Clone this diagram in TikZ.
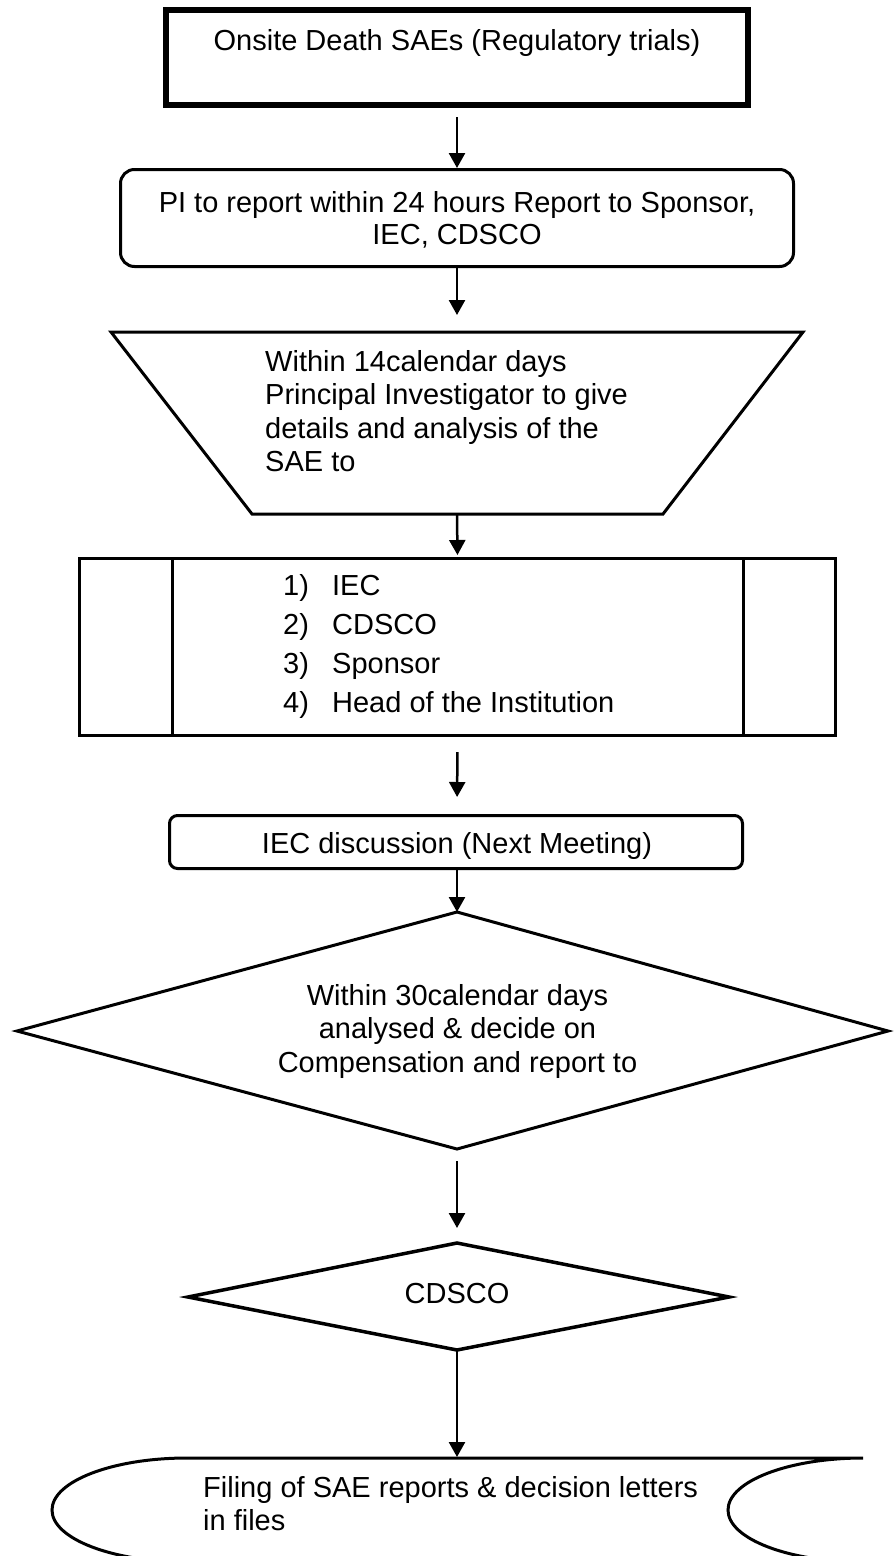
\documentclass[tikz,border=0pt]{standalone}
\usepackage{fontspec}
\setmainfont{Liberation Sans}
\usetikzlibrary{arrows.meta}

\tikzset{
  flowline/.style={line width=3pt, line join=miter},
  boxnode/.style={draw, line width=3pt, inner sep=0pt},
  arr/.style={line width=2.5pt, -{Triangle[length=15pt,width=16pt]}},
  txt/.style={inner sep=0pt, font=\fontsize{29}{33.5}\selectfont},
}

\begin{document}
\begin{tikzpicture}[x=1pt, y=-1pt]
\useasboundingbox (0,0) rectangle (894,1556);
\fill[white] (0,0) rectangle (894,1556);
\clip (0,0) rectangle (894,1556);

% ---- start box (heavy frame)
\node[boxnode, line width=6pt, minimum width=582pt, minimum height=95pt] (start) at (457,57.5) {};
\node[txt, anchor=base] (startT) at (457,50) {Onsite Death SAEs (Regulatory trials)};

% ---- 24-hour report
\node[boxnode, rounded corners=14pt, minimum width=673pt, minimum height=97pt] (report) at (457,218) {};
\node[txt, anchor=base] (reportA) at (457,212) {PI to report within 24 hours Report to Sponsor,};
\node[txt, anchor=base] (reportB) at (457,244) {IEC, CDSCO};

% ---- 14-day analysis (inverted trapezium)
\draw[flowline] (111,332) -- (803,332) -- (663,514) -- (252,514) -- cycle;
\coordinate (analysisN) at (457,332);
\coordinate (analysisS) at (457,514);
\node[txt, anchor=base west] (analysisA) at (265,371) {Within 14calendar days};
\node[txt, anchor=base west] (analysisB) at (265,404.5) {Principal Investigator to give};
\node[txt, anchor=base west] (analysisC) at (265,438) {details and analysis of the};
\node[txt, anchor=base west] (analysisD) at (265,471.5) {SAE to};

% ---- recipients (predefined-process box)
\node[boxnode, minimum width=756pt, minimum height=177pt] (recip) at (457.5,647) {};
\draw[line width=3pt] ([xshift=94pt]recip.north west) -- ([xshift=94pt]recip.south west);
\draw[line width=3pt] ([xshift=-94pt]recip.north east) -- ([xshift=-94pt]recip.south east);
\node[txt, anchor=base west] (recipA) at (283,595) {\makebox[49pt][l]{1)}IEC};
\node[txt, anchor=base west] (recipB) at (283,634) {\makebox[49pt][l]{2)}CDSCO};
\node[txt, anchor=base west] (recipC) at (283,673) {\makebox[49pt][l]{3)}Sponsor};
\node[txt, anchor=base west] (recipD) at (283,712) {\makebox[49pt][l]{4)}Head of the Institution};

% ---- IEC discussion
\node[boxnode, rounded corners=8pt, minimum width=573pt, minimum height=53pt] (iec) at (456,842) {};
\node[txt, anchor=base] (iecT) at (457,853) {IEC discussion (Next Meeting)};

% ---- 30-day decision
\draw[flowline] (457,912) -- (888,1031) -- (457,1149) -- (17,1031) -- cycle;
\coordinate (decideN) at (457,912);
\coordinate (decideS) at (457,1149);
\node[txt, anchor=base] (decideA) at (457.5,1005) {Within 30calendar days};
\node[txt, anchor=base] (decideB) at (457.5,1038.5) {analysed \& decide on};
\node[txt, anchor=base] (decideC) at (457.5,1072) {Compensation and report to};

% ---- CDSCO
\draw[flowline, line width=3.5pt] (457,1243) -- (729,1297) -- (457,1350) -- (188,1297) -- cycle;
\coordinate (cdscoN) at (457,1243);
\coordinate (cdscoS) at (457,1350);
\node[txt, anchor=base] (cdscoT) at (457,1303) {CDSCO};

% ---- filing (stored-data shape)
\draw[flowline] (187,1458) -- (863,1458)
  .. controls (788.4,1458) and (728,1481.3) .. (728,1510)
  .. controls (728,1538.7) and (788.4,1562) .. (863,1562)
  -- (187,1562)
  .. controls (112.4,1562) and (52,1538.7) .. (52,1510)
  .. controls (52,1481.3) and (112.4,1458) .. (187,1458) -- cycle;
\coordinate (fileN) at (457,1458);
\node[txt, anchor=base west] (fileA) at (203,1497) {Filing of SAE reports \& decision letters};
\node[txt, anchor=base west] (fileB) at (203,1530) {in files};

% ---- connectors
\draw[arr, shorten <=9pt] (start.south) -- (report.north);
\draw[arr, shorten >=17pt] (report.south) -- (analysisN);
\draw[arr, shorten >=2pt] (analysisS) -- (recip.north);
\draw[arr, shorten <=15pt, shorten >=17pt] (recip.south) -- ([xshift=1pt]iec.north);
\draw[arr] ([xshift=1pt]iec.south) -- (decideN);
\draw[arr, shorten <=12pt, shorten >=15pt] (decideS) -- (cdscoN);
\draw[arr, shorten >=1pt] (cdscoS) -- (fileN);
\end{tikzpicture}
\end{document}
